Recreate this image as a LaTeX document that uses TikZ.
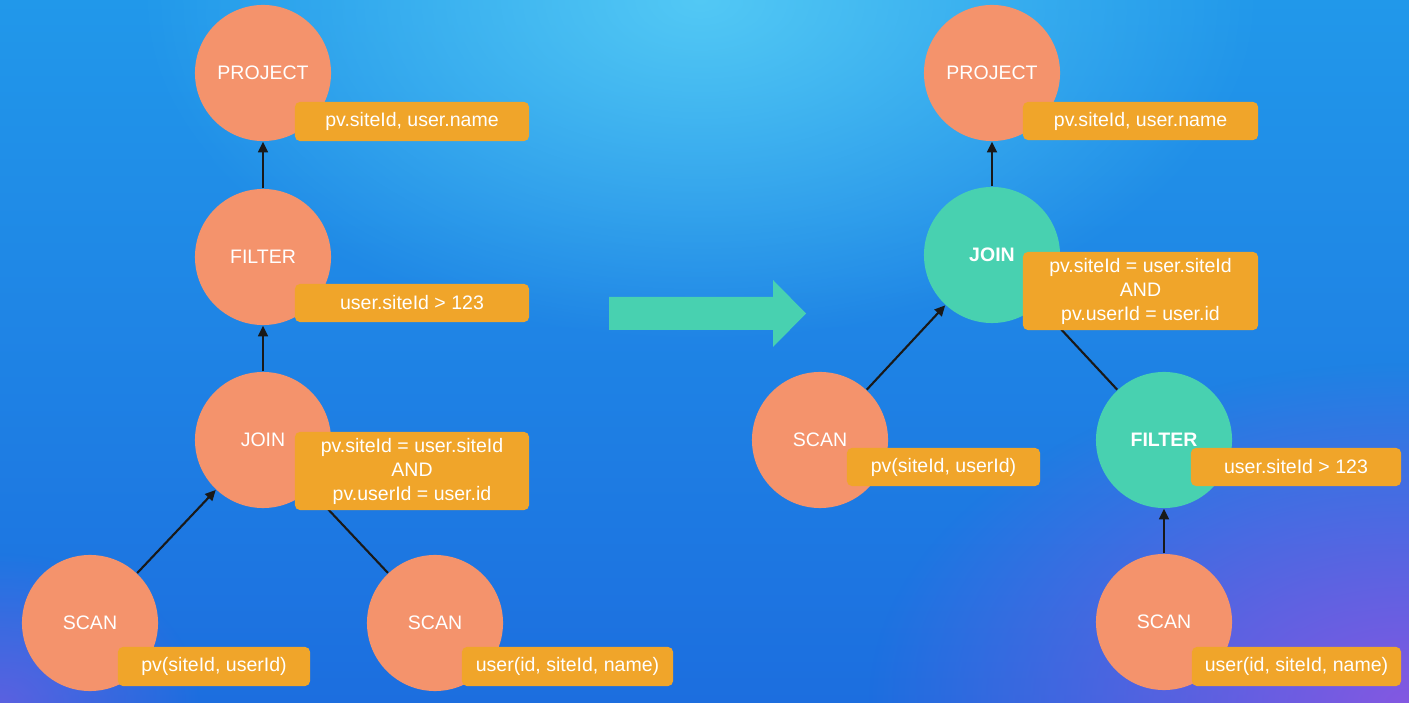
\documentclass[tikz,border=0pt]{standalone}
\usepackage{fontspec}
\setmainfont{Liberation Sans}
\usetikzlibrary{arrows.meta,fadings}
\definecolor{bgtop}{HTML}{2198EA}
\definecolor{bgbot}{HTML}{1C6EDF}
\definecolor{cyanglow}{HTML}{58CEF6}
\definecolor{purpglow}{HTML}{8458E2}
\definecolor{salmon}{HTML}{F4936C}
\definecolor{tealc}{HTML}{48D1B0}
\definecolor{labelc}{HTML}{F0A52A}
\tikzfading[name=glowfade, inner color=transparent!0, outer color=transparent!100]
\tikzset{
  op/.style={circle, fill=salmon, minimum size=1.36cm, inner sep=0pt, text=white,
    font=\fontsize{5.55}{6.8}\selectfont},
  opnew/.style={op, fill=tealc, font=\fontsize{5.55}{6.8}\selectfont\bfseries},
  lbl/.style={fill=labelc, rounded corners=1.4pt, text=white, align=center,
    inner sep=0pt, font=\fontsize{5.55}{6.83}\selectfont},
  edge/.style={line width=0.6pt, black!90, -{Triangle[length=3pt,width=2.8pt]}},
}
\begin{document}
\begin{tikzpicture}[x=0.01cm,y=0.01cm]
\useasboundingbox (0,0) rectangle (1409,703);
% background
\shade[top color=bgtop, bottom color=bgbot] (0,0) rectangle (1409,703);
\begin{scope}
\clip (0,0) rectangle (1409,703);
\fill[cyanglow, opacity=0.9, path fading=glowfade] (700,703) ellipse (560 and 340);
\fill[purpglow, path fading=glowfade] (1409,0) ellipse (540 and 340);
\fill[purpglow, opacity=0.6, path fading=glowfade] (0,0) ellipse (200 and 150);
\end{scope}
% big arrow
\fill[tealc] (609,406) -- (773,406) -- (773,423) -- (806,389.5) -- (773,356) -- (773,373) -- (609,373) -- cycle;
% left plan
\node[op] (projL) at (263,630) {PROJECT};
\node[op] (filtL) at (263,446) {FILTER};
\node[op] (joinL) at (263,263) {JOIN};
\node[op] (scanL1) at (90,80) {SCAN};
\node[op] (scanL2) at (435,80) {SCAN};
\draw[edge] (filtL) -- (projL);
\draw[edge] (joinL) -- (filtL);
\draw[edge] (scanL1) -- (joinL);
\draw[edge] (scanL2) -- (joinL);
\node[lbl, minimum width=2.34cm, minimum height=0.39cm] (lprojL) at (412,581.5) {pv.siteId, user.name};
\node[lbl, minimum width=2.34cm, minimum height=0.38cm] (lfiltL) at (412,400) {user.siteId > 123};
\node[lbl, minimum width=2.34cm, minimum height=0.78cm] (ljoinL) at (412,232) {pv.siteId = user.siteId\\AND\\pv.userId = user.id};
\node[lbl, minimum width=1.92cm, minimum height=0.39cm] (lscanL1) at (214,36.5) {pv(siteId, userId)};
\node[lbl, minimum width=2.11cm, minimum height=0.39cm] (lscanL2) at (567.5,36.5) {user(id, siteId, name)};
% right plan
\node[op] (projR) at (992,630) {PROJECT};
\node[opnew] (joinR) at (992,448) {JOIN};
\node[op] (scanR1) at (820,263) {SCAN};
\node[opnew] (filtR) at (1164,263) {FILTER};
\node[op] (scanR2) at (1164,81) {SCAN};
\draw[edge] (joinR) -- (projR);
\draw[edge] (scanR1) -- (joinR);
\draw[edge] (filtR) -- (joinR);
\draw[edge] (scanR2) -- (filtR);
\node[lbl, minimum width=2.35cm, minimum height=0.38cm] (lprojR) at (1140.5,582) {pv.siteId, user.name};
\node[lbl, minimum width=2.35cm, minimum height=0.78cm] (ljoinR) at (1140.5,412) {pv.siteId = user.siteId\\AND\\pv.userId = user.id};
\node[lbl, minimum width=1.93cm, minimum height=0.38cm] (lscanR1) at (943.5,236) {pv(siteId, userId)};
\node[lbl, minimum width=2.10cm, minimum height=0.38cm] (lfiltR) at (1296,236) {user.siteId > 123};
\node[lbl, minimum width=2.09cm, minimum height=0.39cm] (lscanR2) at (1296.5,36.5) {user(id, siteId, name)};
\end{tikzpicture}
\end{document}
